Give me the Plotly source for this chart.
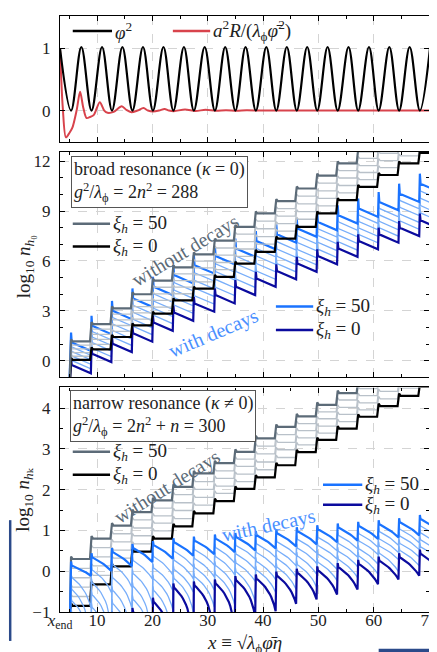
import numpy as np
import plotly.graph_objects as go

# ---------------- data ----------------
X_END = 3.3
X_MAX = 70.0
X_TICKS = [10, 20, 30, 40, 50, 60, 70]
X_MINOR = [5, 15, 25, 35, 45, 55, 65]

# positions of the resonance steps (zeros of the inflaton)
STEP_X = [5.3, 9.0, 12.7, 16.4, 20.1, 23.8, 27.5, 31.3, 35.0, 38.7,
          42.4, 46.1, 49.8, 53.5, 57.2, 60.9, 64.6, 68.35]

# top panel: extrema of phi^2 and the Ricci curve
PHI2_X = [3.3, 5.3, 7.16, 9.0, 10.9, 12.7, 14.58, 16.4, 18.3, 20.1, 22.0, 23.8,
          25.7, 27.5, 29.45, 31.3, 33.16, 35.0, 36.84, 38.7, 40.6, 42.4, 44.3,
          46.1, 47.98, 49.8, 51.67, 53.5, 55.45, 57.2, 59.15, 60.9, 62.83, 64.6,
          66.5, 68.35, 70.2]
PHI2_Y = [1.0, 0, 1.02, 0, 1.02, 0, 1.02, 0, 1.02, 0, 1.02, 0,
          1.02, 0, 1.02, 0, 1.02, 0, 1.02, 0, 1.02, 0, 1.02,
          0, 1.02, 0, 1.02, 0, 1.02, 0, 1.02, 0, 1.02, 0,
          1.02, 0, 1.02]
RICCI_X = [3.3, 3.8, 4.37, 5.0, 5.56, 6.3, 6.93, 7.5, 8.1, 8.8, 9.42, 10.49,
           11.3, 11.9, 13.0, 14.46, 15.3, 16.2, 17.3, 18.4, 19.2, 20.1, 21.2,
           22.2, 23.0, 23.9, 25.9, 27.8, 29.6, 31.5, 33.3, 35.2, 37.0, 40.0,
           45.0, 50.0, 55.0, 60.0, 65.0, 70.0]
RICCI_Y = [1.0, 0.05, -0.43, -0.36, -0.27, 0.0, 0.30, 0.05, -0.12, -0.1, -0.07, 0.135,
           0.0, -0.035, -0.02, 0.07, 0.01, -0.027, 0.0, 0.04, 0.0, -0.015, 0.0,
           0.027, 0.0, -0.01, 0.018, -0.006, 0.012, -0.004, 0.007, -0.002, 0.004, 0.0,
           0.0, 0.0, 0.0, 0.0, 0.0, 0.0]

# broad resonance, without decays: level of each plateau
BROAD_ND_XI50 = [1.16, 2.2, 3.15, 4.0, 4.82, 5.62, 6.4, 7.22, 8.05, 8.86, 9.6, 10.36, 11.13, 11.87, 12.6, 13.35, 14.1, 14.85]
BROAD_ND_XI40 = [0.94, 1.90, 2.81, 3.63, 4.42, 5.22, 5.99, 6.78, 7.61, 8.40, 9.15, 9.90, 10.68, 11.43, 12.17, 12.91, 13.65, 14.38]
BROAD_ND_XI30 = [0.72, 1.59, 2.46, 3.25, 4.02, 4.82, 5.58, 6.35, 7.17, 7.94, 8.70, 9.44, 10.22, 10.99, 11.74, 12.48, 13.21, 13.91]
BROAD_ND_XI20 = [0.49, 1.29, 2.12, 2.88, 3.63, 4.43, 5.16, 5.91, 6.72, 7.47, 8.25, 8.97, 9.77, 10.54, 11.32, 12.04, 12.76, 13.44]
BROAD_ND_XI10 = [0.27, 0.98, 1.77, 2.50, 3.23, 4.03, 4.75, 5.48, 6.28, 7.01, 7.80, 8.51, 9.31, 10.10, 10.89, 11.61, 12.32, 12.97]
BROAD_ND_XI0 = [0.05, 0.68, 1.43, 2.13, 2.83, 3.63, 4.34, 5.04, 5.84, 6.55, 7.35, 8.05, 8.86, 9.66, 10.46, 11.17, 11.87, 12.5]

# broad resonance, with decays: mid-plateau level and the decay across a plateau
BROAD_D_XI50 = [0.85, 1.85, 2.75, 3.5, 4.2, 4.9, 5.5, 6.05, 6.5, 6.95, 7.35, 7.7, 8.1, 8.5, 8.9, 9.3, 9.8, 10.4]
BROAD_D_XI40 = [0.58, 1.51, 2.35, 3.08, 3.77, 4.45, 5.04, 5.58, 6.04, 6.5, 6.91, 7.28, 7.69, 8.1, 8.51, 8.91, 9.39, 9.96]
BROAD_D_XI30 = [0.31, 1.18, 1.96, 2.66, 3.34, 4.0, 4.58, 5.11, 5.58, 6.05, 6.47, 6.86, 7.28, 7.7, 8.12, 8.52, 8.98, 9.52]
BROAD_D_XI20 = [0.04, 0.84, 1.56, 2.24, 2.91, 3.55, 4.12, 4.64, 5.12, 5.6, 6.03, 6.44, 6.87, 7.3, 7.73, 8.13, 8.57, 9.08]
BROAD_D_XI10 = [-0.23, 0.50, 1.17, 1.82, 2.48, 3.1, 3.66, 4.17, 4.66, 5.15, 5.59, 6.02, 6.46, 6.9, 7.34, 7.74, 8.16, 8.64]
BROAD_D_XI0 = [-0.5, 0.17, 0.77, 1.4, 2.05, 2.65, 3.2, 3.7, 4.2, 4.7, 5.15, 5.6, 6.05, 6.5, 6.95, 7.35, 7.75, 8.2]
BROAD_D_DROP = 0.5

# narrow resonance, without decays
NARROW_ND_XI50 = [0.3, 0.8, 1.12, 1.45, 1.74, 2.07, 2.4, 2.65, 2.93, 3.26, 3.54, 3.8, 4.08, 4.37, 4.65, 4.95, 5.25, 5.55]
NARROW_ND_XI40 = [0.07, 0.58, 0.92, 1.26, 1.55, 1.88, 2.2, 2.46, 2.75, 3.07, 3.35, 3.62, 3.91, 4.2, 4.48, 4.77, 5.06, 5.34]
NARROW_ND_XI30 = [-0.16, 0.35, 0.72, 1.06, 1.36, 1.68, 2.01, 2.28, 2.57, 2.88, 3.16, 3.45, 3.74, 4.02, 4.31, 4.59, 4.87, 5.14]
NARROW_ND_XI20 = [-0.39, 0.13, 0.52, 0.87, 1.18, 1.49, 1.81, 2.09, 2.38, 2.68, 2.98, 3.27, 3.56, 3.85, 4.13, 4.41, 4.68, 4.93]
NARROW_ND_XI10 = [-0.62, -0.1, 0.32, 0.67, 0.99, 1.29, 1.62, 1.91, 2.2, 2.49, 2.79, 3.1, 3.39, 3.67, 3.96, 4.23, 4.49, 4.73]
NARROW_ND_XI0 = [-0.85, -0.32, 0.12, 0.48, 0.8, 1.1, 1.42, 1.72, 2.02, 2.3, 2.6, 2.92, 3.22, 3.5, 3.79, 4.05, 4.3, 4.52]

# narrow resonance, with decays: value right after each step and at the end of the plateau
NARROW_D_XI50_PEAK = [0.14, 0.34, 0.47, 0.57, 0.64, 0.71, 0.75, 0.8, 0.84, 0.88, 0.93, 0.98, 1.03, 1.07, 1.11, 1.15, 1.2, 1.28]
NARROW_D_XI50_END = [-0.11, 0.01, 0.12, 0.23, 0.31, 0.38, 0.42, 0.47, 0.51, 0.56, 0.61, 0.66, 0.71, 0.75, 0.79, 0.83, 0.88, 0.96]
NARROW_D_XI40_PEAK = [-0.15, 0.03, 0.16, 0.26, 0.36, 0.49, 0.53, 0.58, 0.63, 0.67, 0.72, 0.78, 0.83, 0.88, 0.92, 0.97, 1.03, 1.11]
NARROW_D_XI40_END = [-0.9, -0.52, -0.39, -0.19, -0.09, 0.11, 0.15, 0.2, 0.3, 0.34, 0.39, 0.45, 0.5, 0.55, 0.59, 0.64, 0.7, 0.78]
NARROW_D_XI30_PEAK = [-0.44, -0.28, -0.16, -0.06, 0.08, 0.27, 0.31, 0.36, 0.42, 0.46, 0.51, 0.57, 0.63, 0.68, 0.74, 0.79, 0.86, 0.94]
NARROW_D_XI30_END = [-3, -1.5, -0.91, -0.81, -0.47, -0.18, -0.14, -0.09, 0.04, 0.08, 0.13, 0.19, 0.3, 0.35, 0.41, 0.46, 0.53, 0.61]
NARROW_D_XI20_PEAK = [-0.72, -0.58, -0.47, -0.37, -0.19, 0.04, 0.09, 0.14, 0.2, 0.24, 0.31, 0.37, 0.42, 0.49, 0.55, 0.62, 0.68, 0.77]
NARROW_D_XI20_END = [-3, -3, -3, -3, -0.94, -0.51, -0.46, -0.41, -0.25, -0.21, -0.14, -0.08, 0.04, 0.11, 0.17, 0.29, 0.35, 0.44]
NARROW_D_XI10_PEAK = [-1.01, -0.89, -0.79, -0.69, -0.47, -0.18, -0.13, -0.08, -0.01, 0.03, 0.1, 0.16, 0.22, 0.29, 0.37, 0.44, 0.51, 0.6]
NARROW_D_XI10_END = [-3, -3, -3, -3, -3, -1.0, -0.88, -0.83, -0.76, -0.52, -0.45, -0.39, -0.23, -0.16, -0.08, -0.01, 0.13, 0.27]
NARROW_D_XI0_PEAK = [-1.3, -1.2, -1.1, -1.0, -0.75, -0.4, -0.35, -0.3, -0.22, -0.18, -0.11, -0.04, 0.02, 0.1, 0.18, 0.26, 0.34, 0.43]
NARROW_D_XI0_END = [-3, -3, -3, -3, -3, -3, -2, -1.5, -1.12, -0.98, -0.8, -0.69, -0.57, -0.45, -0.32, -0.2, -0.11, -0.02]

# ---------------- styling ----------------
FONT = "Liberation Serif, DejaVu Serif, serif"
GRAY50 = "#5c6b78"
LIGHT_GRAY = "#b9c1c9"
BLACK = "#000000"
BLUE50 = "#1a73ff"
LIGHT_BLUE = "#78aefa"
NAVY = "#0b0b9e"
RED = "#d8434c"

W, H = 437, 652
ML, MR, MT, MB = 52, 9, 7, 48
PW, PH = W - ML - MR, H - MT - MB


def px_x(px):
    return (px - ML) / PW


def px_y(py):
    return (H - MB - py) / PH


def stair_xy(starts, ends, spike, w, arc=False, lead=0.45, n_sub=14):
    t = STEP_X + [X_MAX + 2.0]
    xs, ys = [t[0] - lead], [-3.0]
    for k in range(len(starts)):
        xs += [t[k], t[k] + w]
        ys += [starts[k] + spike, starts[k]]
        xa, xb = t[k] + w, t[k + 1] - w
        if arc:
            a, b = 10 ** starts[k], 10 ** ends[k]
            for f in np.linspace(0, 1, n_sub)[1:]:
                xs.append(xa + f * (xb - xa))
                ys.append(float(np.log10(max(a + (b - a) * f, 1e-3))))
        else:
            xs.append(xb)
            ys.append(ends[k])
    return xs, ys


fig = go.Figure()


def add_line(xs, ys, color, width, ax, shape="linear", smoothing=1.0):
    fig.add_trace(go.Scatter(x=xs, y=ys, mode="lines",
                             line=dict(color=color, width=width, shape=shape,
                                       smoothing=smoothing if shape == "spline" else None),
                             xaxis="x" + ax, yaxis="y" + ax,
                             showlegend=False, hoverinfo="skip"))


# ---- top panel ----
add_line(RICCI_X, RICCI_Y, RED, 2.0, "", shape="spline", smoothing=0.8)
add_line(PHI2_X, PHI2_Y, BLACK, 2.2, "", shape="spline", smoothing=1.0)

# ---- middle panel (broad) ----
for mids, col, wid, spk in [(BROAD_D_XI40, LIGHT_BLUE, 1.3, 0.35), (BROAD_D_XI30, LIGHT_BLUE, 1.3, 0.35),
                            (BROAD_D_XI20, LIGHT_BLUE, 1.3, 0.35), (BROAD_D_XI10, LIGHT_BLUE, 1.3, 0.35),
                            (BROAD_D_XI0, NAVY, 2.2, 0.4), (BROAD_D_XI50, BLUE50, 2.2, 0.6)]:
    s = [m + BROAD_D_DROP / 2 for m in mids]
    e = [m - BROAD_D_DROP / 2 for m in mids]
    xs, ys = stair_xy(s, e, spk, 0.12)
    add_line(xs, ys, col, wid, "2")
for lev, col, wid in [(BROAD_ND_XI40, LIGHT_GRAY, 1.3), (BROAD_ND_XI30, LIGHT_GRAY, 1.3),
                      (BROAD_ND_XI20, LIGHT_GRAY, 1.3), (BROAD_ND_XI10, LIGHT_GRAY, 1.3),
                      (BROAD_ND_XI0, BLACK, 2.2), (BROAD_ND_XI50, GRAY50, 2.2)]:
    xs, ys = stair_xy(lev, lev, 0.12, 0.28)
    add_line(xs, ys, col, wid, "2")

# ---- bottom panel (narrow) ----
for lev, col, wid in [(NARROW_ND_XI40, LIGHT_GRAY, 1.3), (NARROW_ND_XI30, LIGHT_GRAY, 1.3),
                      (NARROW_ND_XI20, LIGHT_GRAY, 1.3), (NARROW_ND_XI10, LIGHT_GRAY, 1.3),
                      (NARROW_ND_XI0, BLACK, 2.2), (NARROW_ND_XI50, GRAY50, 2.2)]:
    xs, ys = stair_xy(lev, lev, 0.06, 0.28)
    add_line(xs, ys, col, wid, "3")
for pk, en, col, wid in [(NARROW_D_XI40_PEAK, NARROW_D_XI40_END, LIGHT_BLUE, 1.3),
                         (NARROW_D_XI30_PEAK, NARROW_D_XI30_END, LIGHT_BLUE, 1.3),
                         (NARROW_D_XI20_PEAK, NARROW_D_XI20_END, LIGHT_BLUE, 1.3),
                         (NARROW_D_XI10_PEAK, NARROW_D_XI10_END, LIGHT_BLUE, 1.3),
                         (NARROW_D_XI0_PEAK, NARROW_D_XI0_END, NAVY, 2.2),
                         (NARROW_D_XI50_PEAK, NARROW_D_XI50_END, BLUE50, 2.2)]:
    xs, ys = stair_xy(pk, en, 0.1, 0.12, arc=True)
    add_line(xs, ys, col, wid, "3")

# ---------------- axes ----------------
tickfont = dict(family=FONT, size=17, color="#222")
common_x = dict(range=[X_END, X_MAX], tickmode="array",
                tickvals=[X_END] + X_TICKS,
                ticktext=["<i>x</i><sub>end</sub>"] + [str(v) for v in X_TICKS],
                ticks="inside", ticklen=5, tickwidth=1, tickcolor="black",
                showline=True, linecolor="black", linewidth=1.3, mirror="allticks",
                showgrid=True, gridcolor="#d4d4d4", griddash="dash", gridwidth=0.8,
                zeroline=False, tickfont=tickfont, ticklabelstandoff=-8,
                minor=dict(tickmode="array", tickvals=X_MINOR, ticks="inside",
                           ticklen=3, tickcolor="black", showgrid=False))
common_y = dict(ticks="inside", ticklen=5, tickwidth=1, tickcolor="black",
                showline=True, linecolor="black", linewidth=1.3, mirror="allticks",
                showgrid=True, gridcolor="#d4d4d4", griddash="dash", gridwidth=0.8,
                zeroline=False, tickfont=tickfont, tickmode="array", ticklabelstandoff=5)

D_TOP = [px_y(133.3), px_y(7.3)]
D_MID = [px_y(369), px_y(143.3)]
D_BOT = [0, px_y(379)]

fig.update_layout(
    xaxis=dict(common_x, anchor="y", showticklabels=False),
    xaxis2=dict(common_x, anchor="y2", matches="x", showticklabels=False),
    xaxis3=dict(common_x, anchor="y3", matches="x", showticklabels=True),
    yaxis=dict(common_y, domain=D_TOP, anchor="x", range=[-0.506, 1.513],
               tickvals=[0, 1], ticktext=["0", "1"]),
    yaxis2=dict(common_y, domain=D_MID, anchor="x2", range=[-1.0, 12.55],
                tickvals=[0, 3, 6, 9, 12], ticktext=["0", "3", "6", "9", "12"],
                minor=dict(tickmode="array", tickvals=[1, 2, 4, 5, 7, 8, 10, 11],
                           ticks="inside", ticklen=3, tickcolor="black", showgrid=False)),
    yaxis3=dict(common_y, domain=D_BOT, anchor="x3", range=[-1.0, 4.51],
                tickvals=[-1, 0, 1, 2, 3, 4], ticktext=["\u22121", "0", "1", "2", "3", "4"],
                minor=dict(tickmode="array", tickvals=[-0.5, 0.5, 1.5, 2.5, 3.5, 4.5],
                           ticks="inside", ticklen=3, tickcolor="black", showgrid=False)),
    width=W, height=H, autosize=False,
    margin=dict(l=ML, r=MR, t=MT, b=MB, pad=0),
    paper_bgcolor="white", plot_bgcolor="white",
    font=dict(family=FONT, size=17, color="#222"),
    showlegend=False,
)

# ---------------- legends (drawn manually) ----------------
shapes = []
annots = []


def legend_item(x0, x1, y, color, text):
    shapes.append(dict(type="line", xref="paper", yref="paper",
                       x0=px_x(x0), x1=px_x(x1), y0=px_y(y), y1=px_y(y),
                       line=dict(color=color, width=2.5)))
    annots.append(dict(xref="paper", yref="paper", x=px_x(x1 + 1), y=px_y(y),
                       xanchor="left", yanchor="middle", showarrow=False,
                       text=text, font=dict(family=FONT, size=19, color="#222")))


XI50 = "<i>ξ<sub>h</sub></i> = 50"
XI0 = "<i>ξ<sub>h</sub></i> = 0"
legend_item(65, 105, 22, BLACK, "<i>φ</i><sup>2</sup>")
legend_item(167, 205, 22, RED, "<i>a</i><sup>2</sup><i>R</i>/(<i>λ</i><sub>ϕ</sub><i>φ̄</i><sup>2</sup>)")
legend_item(65, 103, 215, GRAY50, XI50)
legend_item(65, 103, 238, BLACK, XI0)
legend_item(272, 310, 298, BLUE50, XI50)
legend_item(272, 310, 321.5, NAVY, XI0)
legend_item(65, 103, 443.5, GRAY50, XI50)
legend_item(65, 103, 466.5, BLACK, XI0)
legend_item(320, 360, 476.5, BLUE50, XI50)
legend_item(320, 360, 496.5, NAVY, XI0)

# boxes
annots.append(dict(xref="paper", yref="paper", x=px_x(63), y=px_y(147),
                   xanchor="left", yanchor="top", showarrow=False, align="left",
                   text="broad resonance (<i>κ</i> = 0)<br><i>g</i><sup>2</sup>/<i>λ</i><sub>ϕ</sub> = 2<i>n</i><sup>2</sup> = 288",
                   font=dict(family=FONT, size=18, color="#222"),
                   bordercolor="#555", borderwidth=1, borderpad=2, bgcolor="white"))
annots.append(dict(xref="paper", yref="paper", x=px_x(62), y=px_y(382),
                   xanchor="left", yanchor="top", showarrow=False, align="left",
                   text="narrow resonance (<i>κ</i> ≠ 0)<br><i>g</i><sup>2</sup>/<i>λ</i><sub>ϕ</sub> = 2<i>n</i><sup>2</sup> + <i>n</i> = 300",
                   font=dict(family=FONT, size=18, color="#222"),
                   bordercolor="#555", borderwidth=1, borderpad=2, bgcolor="white"))

# rotated labels
for x, y, ang, txt, col, ax in [(26.0, 6.63, -31, "without decays", GRAY50, "2"),
                                (31.0, 1.65, -23, "with decays", "#4a90ff", "2"),
                                (22.8, 2.07, -32, "without decays", GRAY50, "3"),
                                (41.0, 1.13, -12, "with decays", "#4a90ff", "3")]:
    annots.append(dict(xref="x" + ax, yref="y" + ax, x=x, y=y, text=txt, textangle=ang,
                       showarrow=False, xanchor="center", yanchor="middle",
                       font=dict(family=FONT, size=20, color=col)))

# axis titles
annots.append(dict(xref="paper", yref="paper", x=px_x(16), y=px_y(258), textangle=-90,
                   showarrow=False, xanchor="center", yanchor="middle",
                   text="log<sub>10</sub> <i>n</i><sub><i>h</i>₀</sub>",
                   font=dict(family=FONT, size=19, color="#222")))
annots.append(dict(xref="paper", yref="paper", x=px_x(16), y=px_y(492), textangle=-90,
                   showarrow=False, xanchor="center", yanchor="middle",
                   text="log<sub>10</sub> <i>n</i><sub><i>h</i>ₖ</sub>",
                   font=dict(family=FONT, size=19, color="#222")))
annots.append(dict(xref="paper", yref="paper", x=px_x(240), y=px_y(636),
                   showarrow=False, xanchor="center", yanchor="middle",
                   text="<i>x</i> ≡ √<i>λ</i><sub>ϕ</sub><i>φ̄η</i>",
                   font=dict(family=FONT, size=19, color="#222")))

# frame decorations at the page edges
shapes.append(dict(type="rect", xref="paper", yref="paper",
                   x0=px_x(0), x1=px_x(2.5), y0=px_y(633), y1=px_y(512),
                   fillcolor="#2b4a8a", line=dict(width=0)))
shapes.append(dict(type="path", xref="paper", yref="paper",
                   path="M {} {} L {} {} L {} {}".format(px_x(378.5), px_y(655), px_x(378.5), px_y(642.5),
                                                         px_x(440), px_y(642.5)),
                   line=dict(color="#2b4a8a", width=3.5)))

fig.update_layout(shapes=shapes, annotations=annots)
fig.write_html("out.html")
